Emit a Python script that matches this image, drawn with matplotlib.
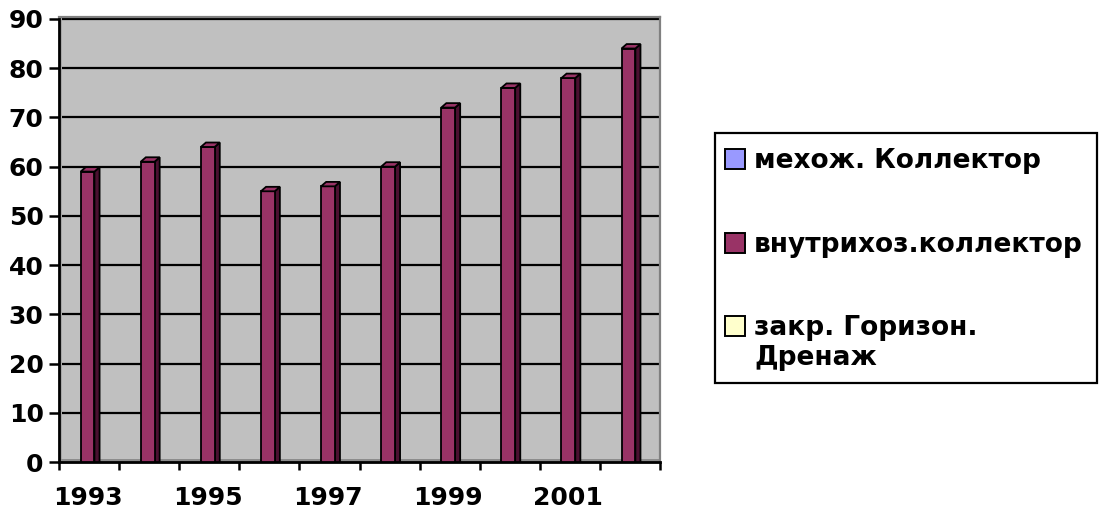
import matplotlib
matplotlib.use("Agg")
import matplotlib.pyplot as plt
from matplotlib.patches import Polygon, Rectangle

plt.rcParams['font.family'] = ['DejaVu Sans']
plt.rcParams['font.weight'] = 'bold'

# Data
years = [1993, 1994, 1995, 1996, 1997, 1998, 1999, 2000, 2001, 2002]
series_names = ["мехож. Коллектор", "внутрихоз.коллектор", "закр. Горизон.\nДренаж"]
series_colors = ["#9999FF", "#993366", "#FFFFCC"]
inner_collector = [59, 61, 64, 55, 56, 60, 72, 76, 78, 84]
y_ticks = [0, 10, 20, 30, 40, 50, 60, 70, 80, 90]

W, H = 1099, 514
fig = plt.figure(figsize=(W / 100, H / 100), dpi=100)
fig.patch.set_facecolor("white")

ax = fig.add_axes([59 / W, (H - 462) / H, (660 - 59) / W, (462 - 17) / H])
ax.set_facecolor("#C0C0C0")
ax.set_xlim(0, len(years))
ax.set_ylim(0, 90.4)

# back-wall edge strips (left wall and floor of the 3-D plot area)
ax.add_patch(Rectangle((0, 0), 0.05, 90.4, facecolor="#A6A6A6", edgecolor="none", zorder=1))
ax.add_patch(Rectangle((0, 0), len(years), 0.7, facecolor="#8C8C8C", edgecolor="none", zorder=1))

# gridlines
for t in y_ticks[1:]:
    ax.plot([0.05, len(years)], [t, t], color="black", lw=1.6, zorder=2, solid_capstyle="butt")

# 3-D columns
bar_w = 0.23
depth_x = 0.085
depth_y = 0.9
face = series_colors[1]
side = "#4A1030"
centers = [i + 0.475 for i in range(len(years))]
ax.bar(centers, inner_collector, width=bar_w, color=face, edgecolor="black",
       linewidth=1.3, zorder=4)
for c, v in zip(centers, inner_collector):
    x0, x1 = c - bar_w / 2, c + bar_w / 2
    ax.add_patch(Polygon([(x1, 0), (x1, v), (x1 + depth_x, v + depth_y), (x1 + depth_x, 0)],
                         closed=True, facecolor=side, edgecolor="black", lw=1.3, zorder=3))
    ax.add_patch(Polygon([(x0, v), (x1, v), (x1 + depth_x, v + depth_y), (x0 + depth_x, v + depth_y)],
                         closed=True, facecolor=face, edgecolor="black", lw=1.3, zorder=5))

# spines
for s in ("top", "right"):
    ax.spines[s].set_color("#808080")
    ax.spines[s].set_linewidth(1.6)
ax.spines["left"].set_linewidth(2.0)
ax.spines["bottom"].set_linewidth(2.0)
ax.spines["left"].set_color("black")
ax.spines["bottom"].set_color("black")

ax.set_yticks(y_ticks)
ax.set_yticklabels([str(t) for t in y_ticks], fontsize=18, fontweight="bold")
ax.tick_params(axis="y", direction="out", length=7, width=1.8, pad=4)

# category boundaries get tick marks, every other category centre gets a label
ax.set_xticks(range(len(years) + 1))
ax.set_xticklabels([])
ax.tick_params(axis="x", which="major", direction="out", length=6, width=1.8)
ax.set_xticks(centers[::2], minor=True)
ax.set_xticklabels([str(y) for y in years[::2]], minor=True, fontsize=18, fontweight="bold")
ax.tick_params(axis="x", which="minor", length=0, pad=17)

# legend box
lx0, ly0, lx1, ly1 = 715, 133, 1097, 383
fig.patches.append(Rectangle((lx0 / W, 1 - ly1 / H), (lx1 - lx0) / W, (ly1 - ly0) / H,
                             transform=fig.transFigure, facecolor="white",
                             edgecolor="black", lw=1.6))
baselines = [168, 252, 335]
line_step = 30
for name, col, yb in zip(series_names, series_colors, baselines):
    fig.patches.append(Rectangle((725 / W, 1 - (yb + 1) / H), 20 / W, 20 / H,
                                 transform=fig.transFigure, facecolor=col,
                                 edgecolor="black", lw=1.4))
    for j, line in enumerate(name.split("\n")):
        fig.text(754 / W, 1 - (yb + j * line_step) / H, line, fontsize=19,
                 fontweight="bold", va="baseline", ha="left")

fig.savefig("out.png", dpi=100)
